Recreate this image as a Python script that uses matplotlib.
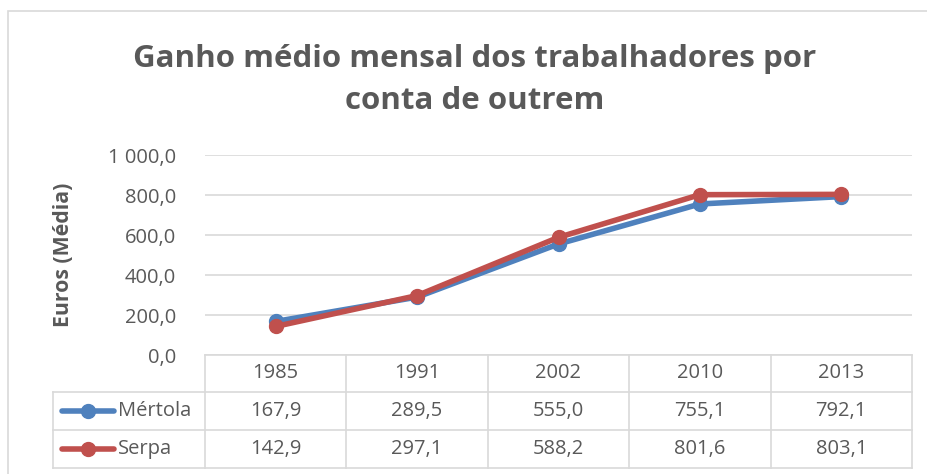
import matplotlib
matplotlib.use("Agg")
import matplotlib.pyplot as plt
from matplotlib.lines import Line2D
from matplotlib.patches import Rectangle

plt.rcParams['font.family'] = ['Open Sans', 'DejaVu Sans']

anos = ["1985", "1991", "2002", "2010", "2013"]
mertola = [167.9, 289.5, 555.0, 755.1, 792.1]
serpa = [142.9, 297.1, 588.2, 801.6, 803.1]
series = [("Mértola", mertola, "#4F81BD"), ("Serpa", serpa, "#C0504D")]
yticks = [0, 200, 400, 600, 800, 1000]

W, H = 928, 474
fig = plt.figure(figsize=(W / 100, H / 100), dpi=100)

def fx(px):
    return px / W

def fy(py):
    return 1 - py / H

grid_c = "#D9D9D9"
txt_c = "#595959"

# chart frame
fig.add_artist(Rectangle((fx(8), fy(480)), fx(940), fy(11) - fy(480),
                         transform=fig.transFigure, fill=False,
                         edgecolor=grid_c, lw=1.2))

x0, x1 = 205, 912
ax = fig.add_axes([fx(x0), fy(355), fx(x1 - x0), fy(155) - fy(355)])
ax.set_xlim(-0.5, len(anos) - 0.5)
ax.set_ylim(0, 1000)
ax.set_yticks(yticks)
ax.set_yticklabels(["1 000,0" if v == 1000 else f"{v:.1f}".replace(".", ",") for v in yticks],
                   fontsize=14.5, color=txt_c)
ax.tick_params(axis="y", length=0, pad=21)
ax.set_xticks([])
for s in ax.spines.values():
    s.set_visible(False)
ax.grid(axis="y", color=grid_c, lw=1.2)
ax.set_axisbelow(True)

for nome, vals, cor in series:
    ax.plot(range(len(anos)), vals, color=cor, lw=4, marker="o", ms=10,
            solid_capstyle="round", zorder=3)

ax.set_ylabel("Euros (Média)", fontsize=15.3, fontweight="bold", color=txt_c, labelpad=24)

fig.text(fx(475), fy(80), "Ganho médio mensal dos trabalhadores por\nconta de outrem",
         ha="center", va="center", fontsize=22.5, fontweight="bold", color=txt_c,
         linespacing=1.5)

# data table
col_w = (x1 - x0) / len(anos)
rows = [355, 392, 430, 468]
tleft = 53
lk = dict(transform=fig.transFigure, color=grid_c, lw=1.2)
for i in range(len(anos) + 1):
    xp = x0 + i * col_w
    fig.add_artist(Line2D([fx(xp), fx(xp)], [fy(rows[0]), fy(rows[-1])], **lk))
fig.add_artist(Line2D([fx(tleft), fx(tleft)], [fy(rows[1]), fy(rows[-1])], **lk))
fig.add_artist(Line2D([fx(x0), fx(x1)], [fy(rows[0]), fy(rows[0])], **lk))
for r in rows[1:]:
    fig.add_artist(Line2D([fx(tleft), fx(x1)], [fy(r), fy(r)], **lk))

for i, a in enumerate(anos):
    fig.text(fx(x0 + (i + 0.5) * col_w), fy((rows[0] + rows[1]) / 2), a,
             ha="center", va="center", fontsize=14.5, color=txt_c)

for k, (nome, vals, cor) in enumerate(series):
    yc = (rows[k + 1] + rows[k + 2]) / 2
    fig.add_artist(Line2D([fx(62), fx(114)], [fy(yc), fy(yc)], transform=fig.transFigure,
                          color=cor, lw=4, solid_capstyle="round"))
    fig.add_artist(Line2D([fx(88)], [fy(yc)], transform=fig.transFigure,
                          color=cor, marker="o", ms=10))
    fig.text(fx(118), fy(yc), nome, ha="left", va="center", fontsize=14.5, color=txt_c)
    for i, v in enumerate(vals):
        fig.text(fx(x0 + (i + 0.5) * col_w), fy(yc), f"{v:.1f}".replace(".", ","),
                 ha="center", va="center", fontsize=14.5, color=txt_c)

fig.savefig("out.png", dpi=100)
